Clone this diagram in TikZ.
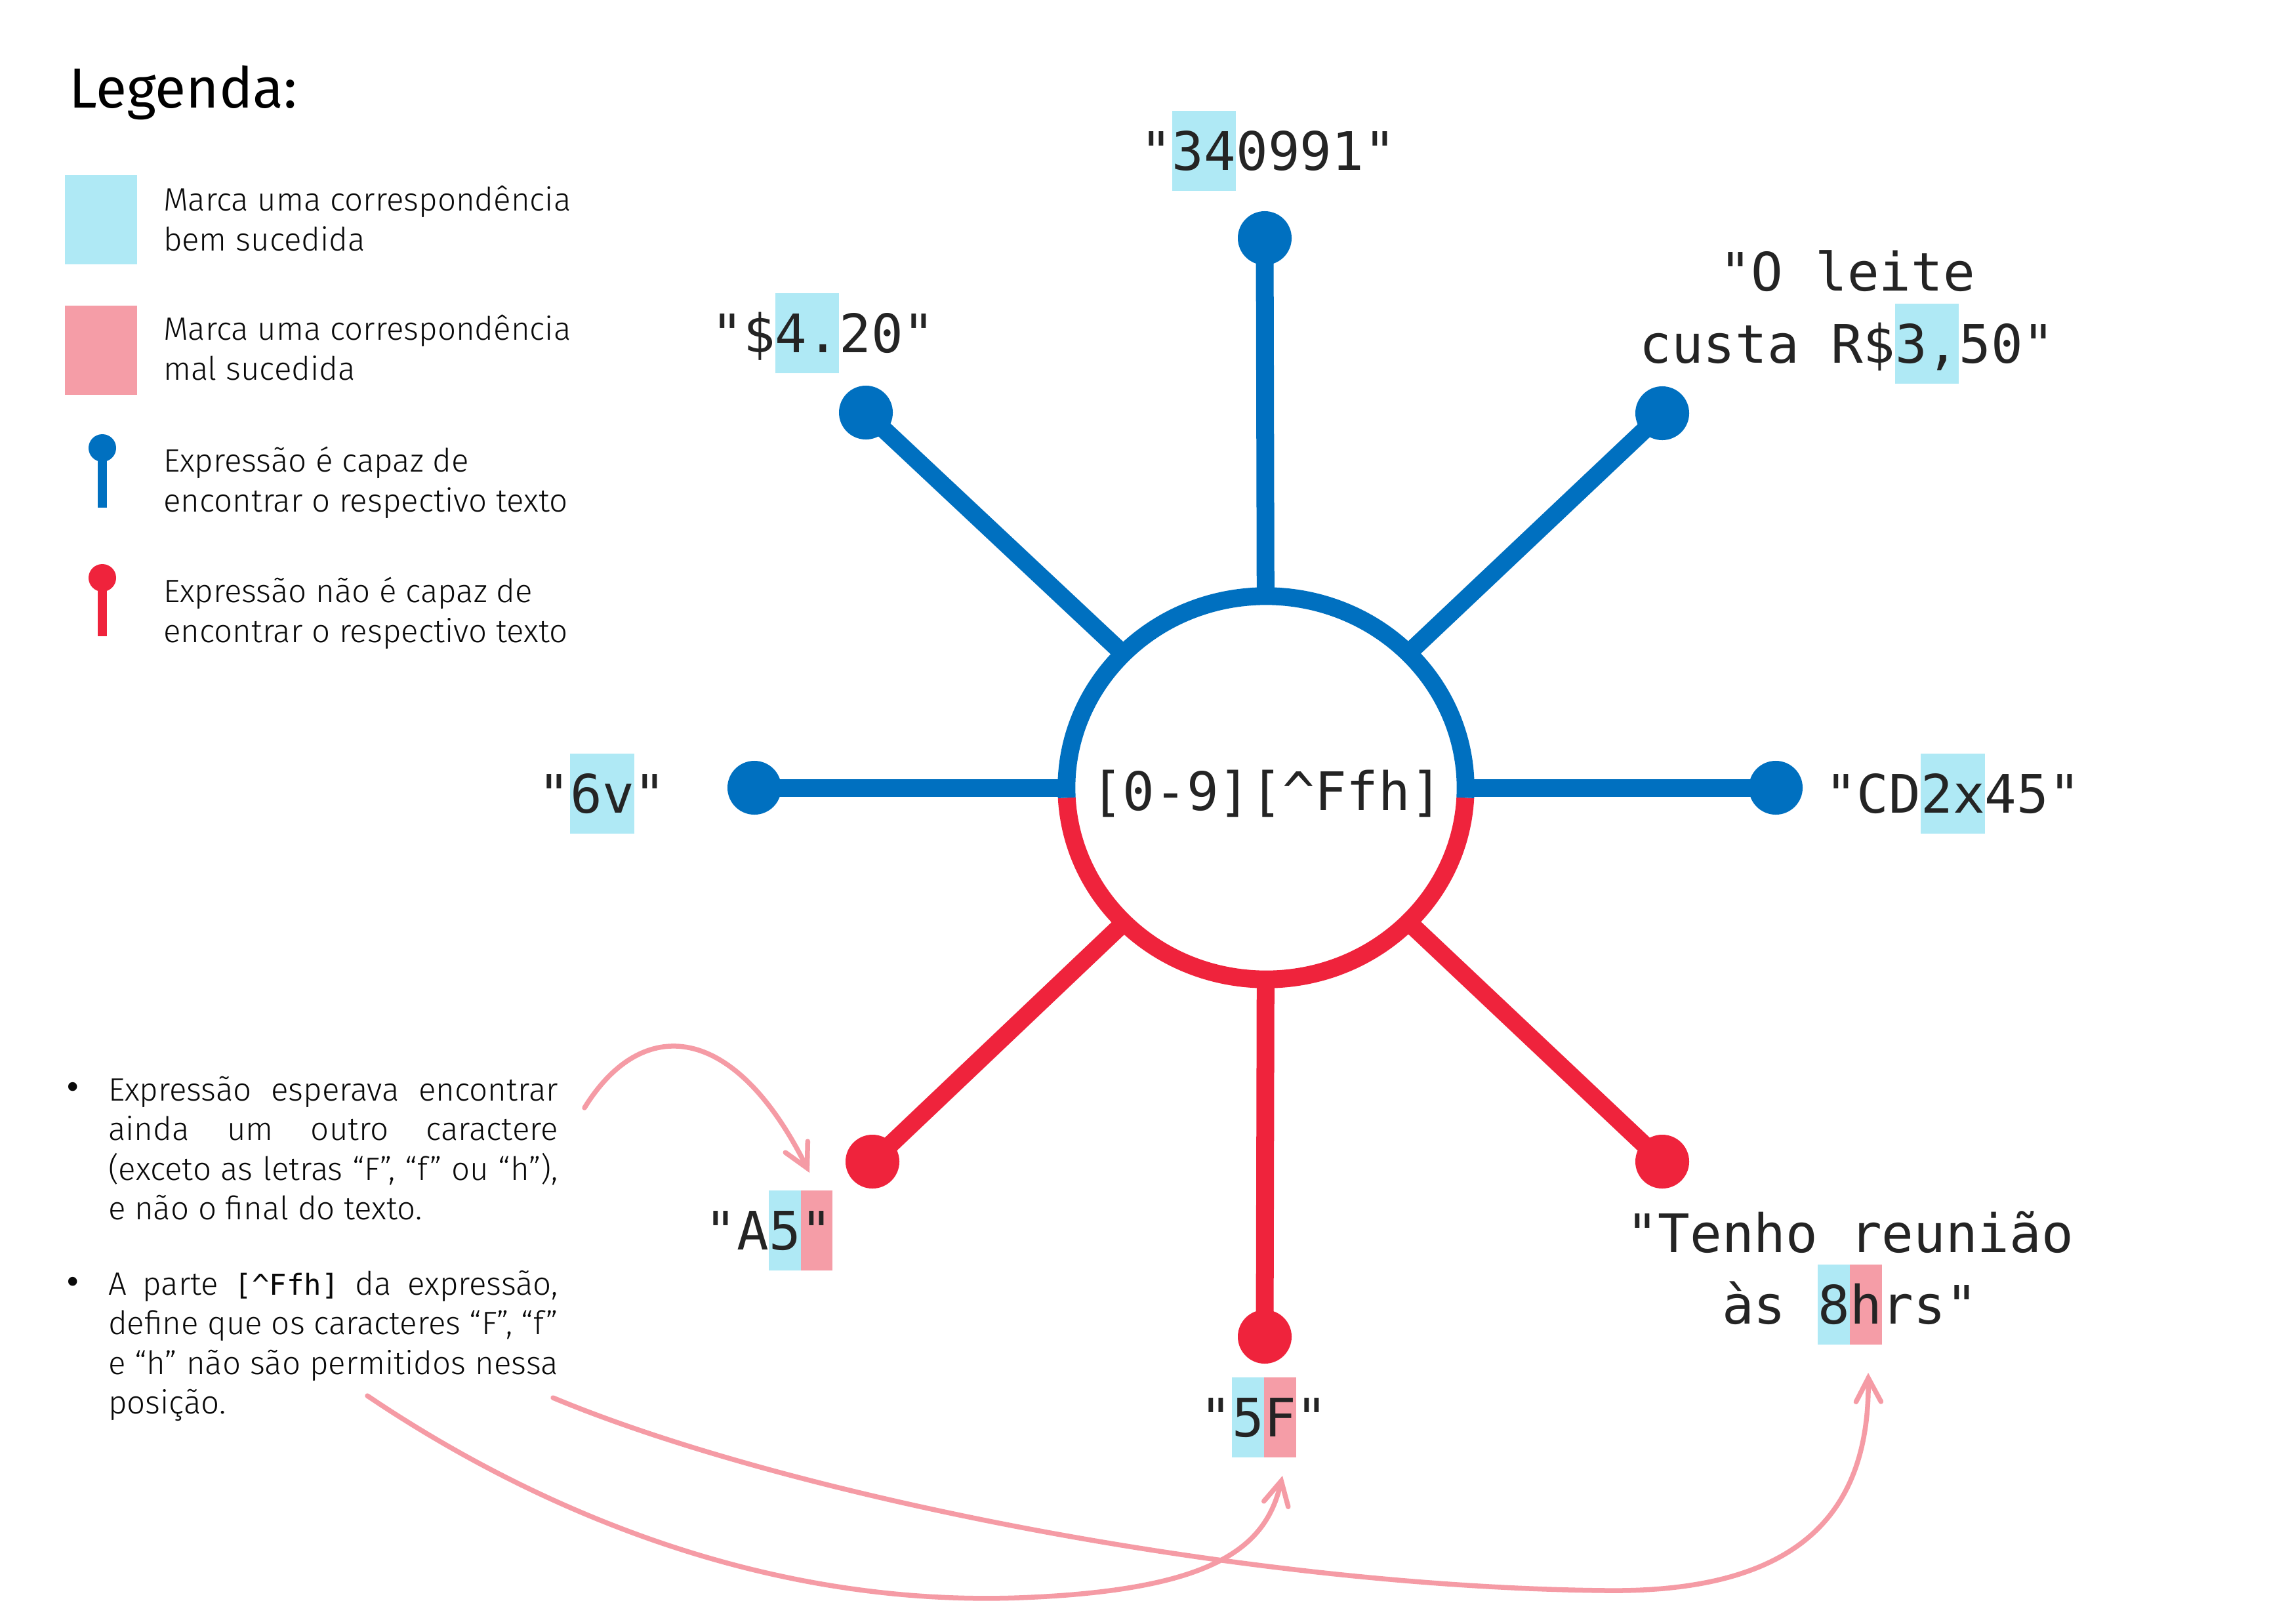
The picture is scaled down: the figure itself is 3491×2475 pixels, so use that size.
\documentclass[tikz,border=0pt]{standalone}
\usepackage{fontspec}
\setmainfont{Fira Sans}[UprightFont=* Light, BoldFont=*]
\newfontfamily\regfont{Fira Sans}
\newfontfamily\monofont{DejaVu Sans Mono}
\usetikzlibrary{shapes.geometric, arrows.meta}
\definecolor{cblue}{RGB}{0,112,192}
\definecolor{cred}{RGB}{239,35,60}
\definecolor{hlgood}{RGB}{175,233,245}
\definecolor{hlbad}{RGB}{245,157,167}
\definecolor{carrow}{RGB}{245,155,165}
\definecolor{ctext}{RGB}{36,36,36}
\definecolor{cstext}{RGB}{10,10,10}
\newcommand\hlt[2]{{\setbox0\hbox{#2}\rlap{\color{#1}\rule[-9pt]{\wd0}{34.7pt}}\box0}}
\newcommand\dol{\char36\relax}
\tikzset{
  dotb/.style={circle, fill=cblue, inner sep=0, outer sep=0, minimum size=0.82cm},
  dotr/.style={circle, fill=cred, inner sep=0, outer sep=0, minimum size=0.82cm},
  spokeb/.style={draw=cblue, line width=0.27cm},
  spoker/.style={draw=cred, line width=0.27cm},
  lbl/.style={anchor=base, inner sep=0, outer sep=0, text=ctext, align=center,
    font=\monofont\fontsize{23}{31}\selectfont},
  ltxt/.style={anchor=base west, inner sep=0, outer sep=0, text=cstext, align=left,
    font=\fontsize{14}{17.3}\selectfont},
  btxt/.style={anchor=base west, inner sep=0, outer sep=0, text=cstext, align=left,
    font=\fontsize{14}{17.07}\selectfont},
  bul/.style={anchor=base, inner sep=0, outer sep=0, text=cstext, font=\regfont\fontsize{17}{17}\selectfont},
  pinb/.style={circle, fill=cblue, inner sep=0, outer sep=0, minimum size=0.42cm},
  pinr/.style={circle, fill=cred, inner sep=0, outer sep=0, minimum size=0.42cm},
  swatch/.style={anchor=north west, inner sep=0, outer sep=0, minimum width=1.10cm, minimum height=1.36cm},
  parrow/.style={draw=carrow, line width=0.075cm, line cap=round,
    -{Straight Barb[length=0.36cm, width=0.38cm, line cap=round]}},
}
\begin{document}
\begin{tikzpicture}[x=0.01cm, y=-0.01cm]
\fill[white] (0,0) rectangle (3491,2475);
\useasboundingbox (0,0) rectangle (3491,2475);

% ---------- legend ----------
\node[anchor=base west, inner sep=0, text=black, font=\regfont\fontsize{24.5}{28}\selectfont] (leg) at (105,164) {Legenda:};
\node[swatch, fill=hlgood] (sgood) at (99,267) {};
\node[swatch, fill=hlbad] (sbad) at (99,466) {};
\node[ltxt] (tgood) at (249,382) {Marca uma correspondência\\bem sucedida};
\node[ltxt] (tbad) at (249,579) {Marca uma correspondência\\mal sucedida};
\node[pinb] (pb) at (156,683) {};
\coordinate (pbend) at (156,774);
\draw[draw=cblue, line width=0.13cm] (pb.center) -- (pbend);
\node[ltxt] (tpb) at (249,780) {Expressão é capaz de\\encontrar o respectivo texto};
\node[pinr] (pr) at (156,881) {};
\coordinate (prend) at (156,970);
\draw[draw=cred, line width=0.13cm] (pr.center) -- (prend);
\node[ltxt] (tpr) at (249,979) {Expressão não é capaz de\\encontrar o respectivo texto};

% ---------- central diagram ----------
\node[ellipse, minimum width=6.08cm, minimum height=5.84cm, inner sep=0, outer sep=0] (core) at (1930,1201) {};
\node[dotb] (dtop) at (1928,363) {};
\node[dotb] (dul) at (1320,629) {};
\node[dotb] (dur) at (2534,630) {};
\node[dotb] (dl) at (1150,1201) {};
\node[dotb] (dr) at (2707,1201) {};
\node[dotr] (dll) at (1330,1771) {};
\node[dotr] (db) at (1928,2038) {};
\node[dotr] (dlr) at (2534,1771) {};
\draw[spokeb] (dtop.center) -- (core);
\draw[spokeb] (dul.center) -- (core);
\draw[spokeb] (dur.center) -- (core);
\draw[spokeb] (dl.center) -- (core);
\draw[spokeb] (dr.center) -- (core);
\draw[spoker] (dll.center) -- (core);
\draw[spoker] (db.center) -- (core);
\draw[spoker] (dlr.center) -- (core);
\draw[draw=cred, line width=0.27cm] (core.center) ++(357:3.04cm and 2.92cm)
  arc[start angle=357, end angle=183, x radius=3.04cm, y radius=2.92cm];
\draw[draw=cblue, line width=0.27cm] (core.center) ++(183:3.04cm and 2.92cm)
  arc[start angle=183, end angle=-3, x radius=3.04cm, y radius=2.92cm];
\node[lbl] (coretext) at (1931,1235) {[0-9][\textasciicircum Ffh]};

% ---------- labels ----------
\node[lbl] (ltop) at (1933,259) {"\hlt{hlgood}{34}0991"};
\node[lbl] (lul) at (1255,537) {"\dol\hlt{hlgood}{4.}20"};
\node[lbl] (lur) at (2816,553) {"O leite\\custa R\dol\hlt{hlgood}{3,}50"};
\node[lbl] (ll) at (918,1239) {"\hlt{hlgood}{6v}"};
\node[lbl] (lr) at (2977,1239) {"CD\hlt{hlgood}{2x}45"};
\node[lbl] (lll) at (1172,1905) {"A\hlt{hlgood}{5}\hlt{hlbad}{"}};
\node[lbl] (lb) at (1927,2190) {"\hlt{hlgood}{5}\hlt{hlbad}{F}"};
\node[lbl] (llr) at (2820,2018) {"Tenho reunião\\às \hlt{hlgood}{8}\hlt{hlbad}{h}rs"};

% ---------- notes ----------
\node[bul] (bu1) at (111,1677) {•};
\node[btxt] (n1) at (165,1859) {\hbox to 195pt{Expressão esperava encontrar}\\\hbox to 195pt{ainda um outro caractere}\\\hbox to 195pt{(exceto as letras “F”, “f” ou “h”),}\\e não o final do texto.};
\node[bul] (bu2) at (111,1974) {•};
\node[btxt] (n2) at (165,2155) {\hbox to 195pt{A parte {\monofont\fontsize{12.5}{17}\selectfont[\textasciicircum Ffh]} da expressão,}\\\hbox to 195pt{define que os caracteres “F”, “f”}\\\hbox to 195pt{e “h” não são permitidos nessa}\\posição.};

% ---------- arrows ----------
\coordinate (a1s) at (891,1689);
\coordinate (a1e) at (1234,1788);
\draw[parrow] (a1s) .. controls (980,1545) and (1120,1560) .. (a1e);
\coordinate (a2s) at (560,2128);
\coordinate (a2m) at (1553,2436);
\coordinate (a2e) at (1955,2250);
\draw[parrow] (a2s) .. controls (800,2290) and (1150,2450) .. (a2m) .. controls (1850,2425) and (1930,2360) .. (a2e);
\coordinate (a3s) at (843,2131);
\coordinate (a3m) at (2450,2425);
\coordinate (a3e) at (2848,2093);
\draw[parrow] (a3s) .. controls (1200,2280) and (1900,2420) .. (a3m) .. controls (2750,2428) and (2850,2300) .. (a3e);
\end{tikzpicture}
\end{document}
